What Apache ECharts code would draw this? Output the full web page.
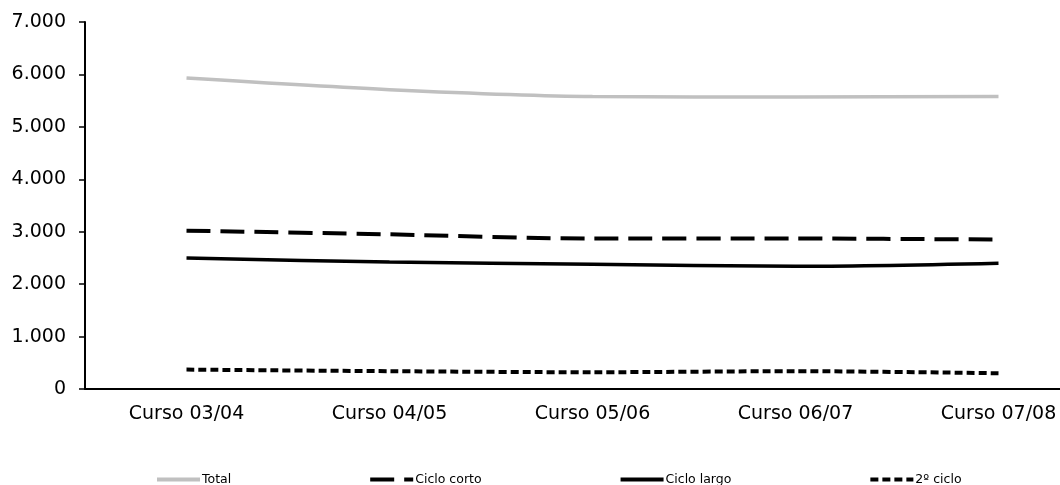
<!DOCTYPE html>
<html>
<head>
<meta charset="utf-8">
<script src="https://cdn.jsdelivr.net/npm/echarts@6/dist/echarts.min.js"></script>
<style>
  html, body { margin: 0; padding: 0; background: #ffffff; }
  #chart { width: 1060px; height: 485px; }
</style>
</head>
<body>
<div id="chart"></div>
<script>
// Academic years on the category axis
const cursos = ['Curso 03/04', 'Curso 04/05', 'Curso 05/06', 'Curso 06/07', 'Curso 07/08'];

// Students per cycle type
const total        = [5930, 5710, 5580, 5570, 5580];
const cicloCorto   = [3020, 2950, 2870, 2870, 2850];
const cicloLargo   = [2500, 2420, 2380, 2340, 2400];
const segundoCiclo = [370, 340, 320, 340, 300];

const seriesNames = ['Total', 'Ciclo corto', 'Ciclo largo', '2º ciclo'];

// Thousands separator with a dot, e.g. 7.000
function fmtMiles(v) {
  return String(v).replace(/\B(?=(\d{3})+(?!\d))/g, '.');
}

const chart = echarts.init(document.getElementById('chart'), null, { renderer: 'canvas' });

const FONT = 'DejaVu Sans, Verdana, sans-serif';

function lineSeries(name, data, color, width, type) {
  return {
    name: name,
    type: 'line',
    data: data,
    symbol: 'none',
    showSymbol: false,
    smooth: 0.3,
    animation: false,
    lineStyle: { color: color, width: width, type: type, cap: 'butt' },
    itemStyle: { color: color }
  };
}

chart.setOption({
  animation: false,
  backgroundColor: '#ffffff',
  grid: {
    left: 85,
    top: 22,
    width: 1015,
    height: 367,
    containLabel: false,
    outerBoundsMode: 'none'
  },
  legend: {
    data: seriesNames,
    left: 155,
    top: 473,
    padding: 0,
    itemWidth: 43,
    itemHeight: 14,
    itemGap: 137,
    // line-only keys: the marker dot is hidden
    itemStyle: { opacity: 0 },
    lineStyle: { width: 4 },
    textStyle: { fontFamily: FONT, fontSize: 12.5, color: '#000000', padding: [0, 0, 0, -3] }
  },
  xAxis: {
    type: 'category',
    data: cursos,
    boundaryGap: true,
    axisLine: { show: true, lineStyle: { color: '#000000', width: 2 } },
    axisTick: { show: false },
    axisLabel: { fontFamily: FONT, fontSize: 19, color: '#000000', margin: 16, interval: 0 },
    splitLine: { show: false }
  },
  yAxis: {
    type: 'value',
    min: 0,
    max: 7000,
    interval: 1000,
    axisLine: { show: true, lineStyle: { color: '#000000', width: 2 } },
    axisTick: { show: true, length: 6, lineStyle: { color: '#000000', width: 1.5 } },
    axisLabel: {
      fontFamily: FONT, fontSize: 19, color: '#000000', margin: 19,
      formatter: fmtMiles
    },
    splitLine: { show: false }
  },
  series: [
    lineSeries('Total', total, '#c0c0c0', 3.5, 'solid'),
    lineSeries('Ciclo corto', cicloCorto, '#000000', 4, [24, 10]),
    lineSeries('Ciclo largo', cicloLargo, '#000000', 3.5, 'solid'),
    lineSeries('2º ciclo', segundoCiclo, '#000000', 4, [8, 4])
  ]
});
</script>
</body>
</html>
